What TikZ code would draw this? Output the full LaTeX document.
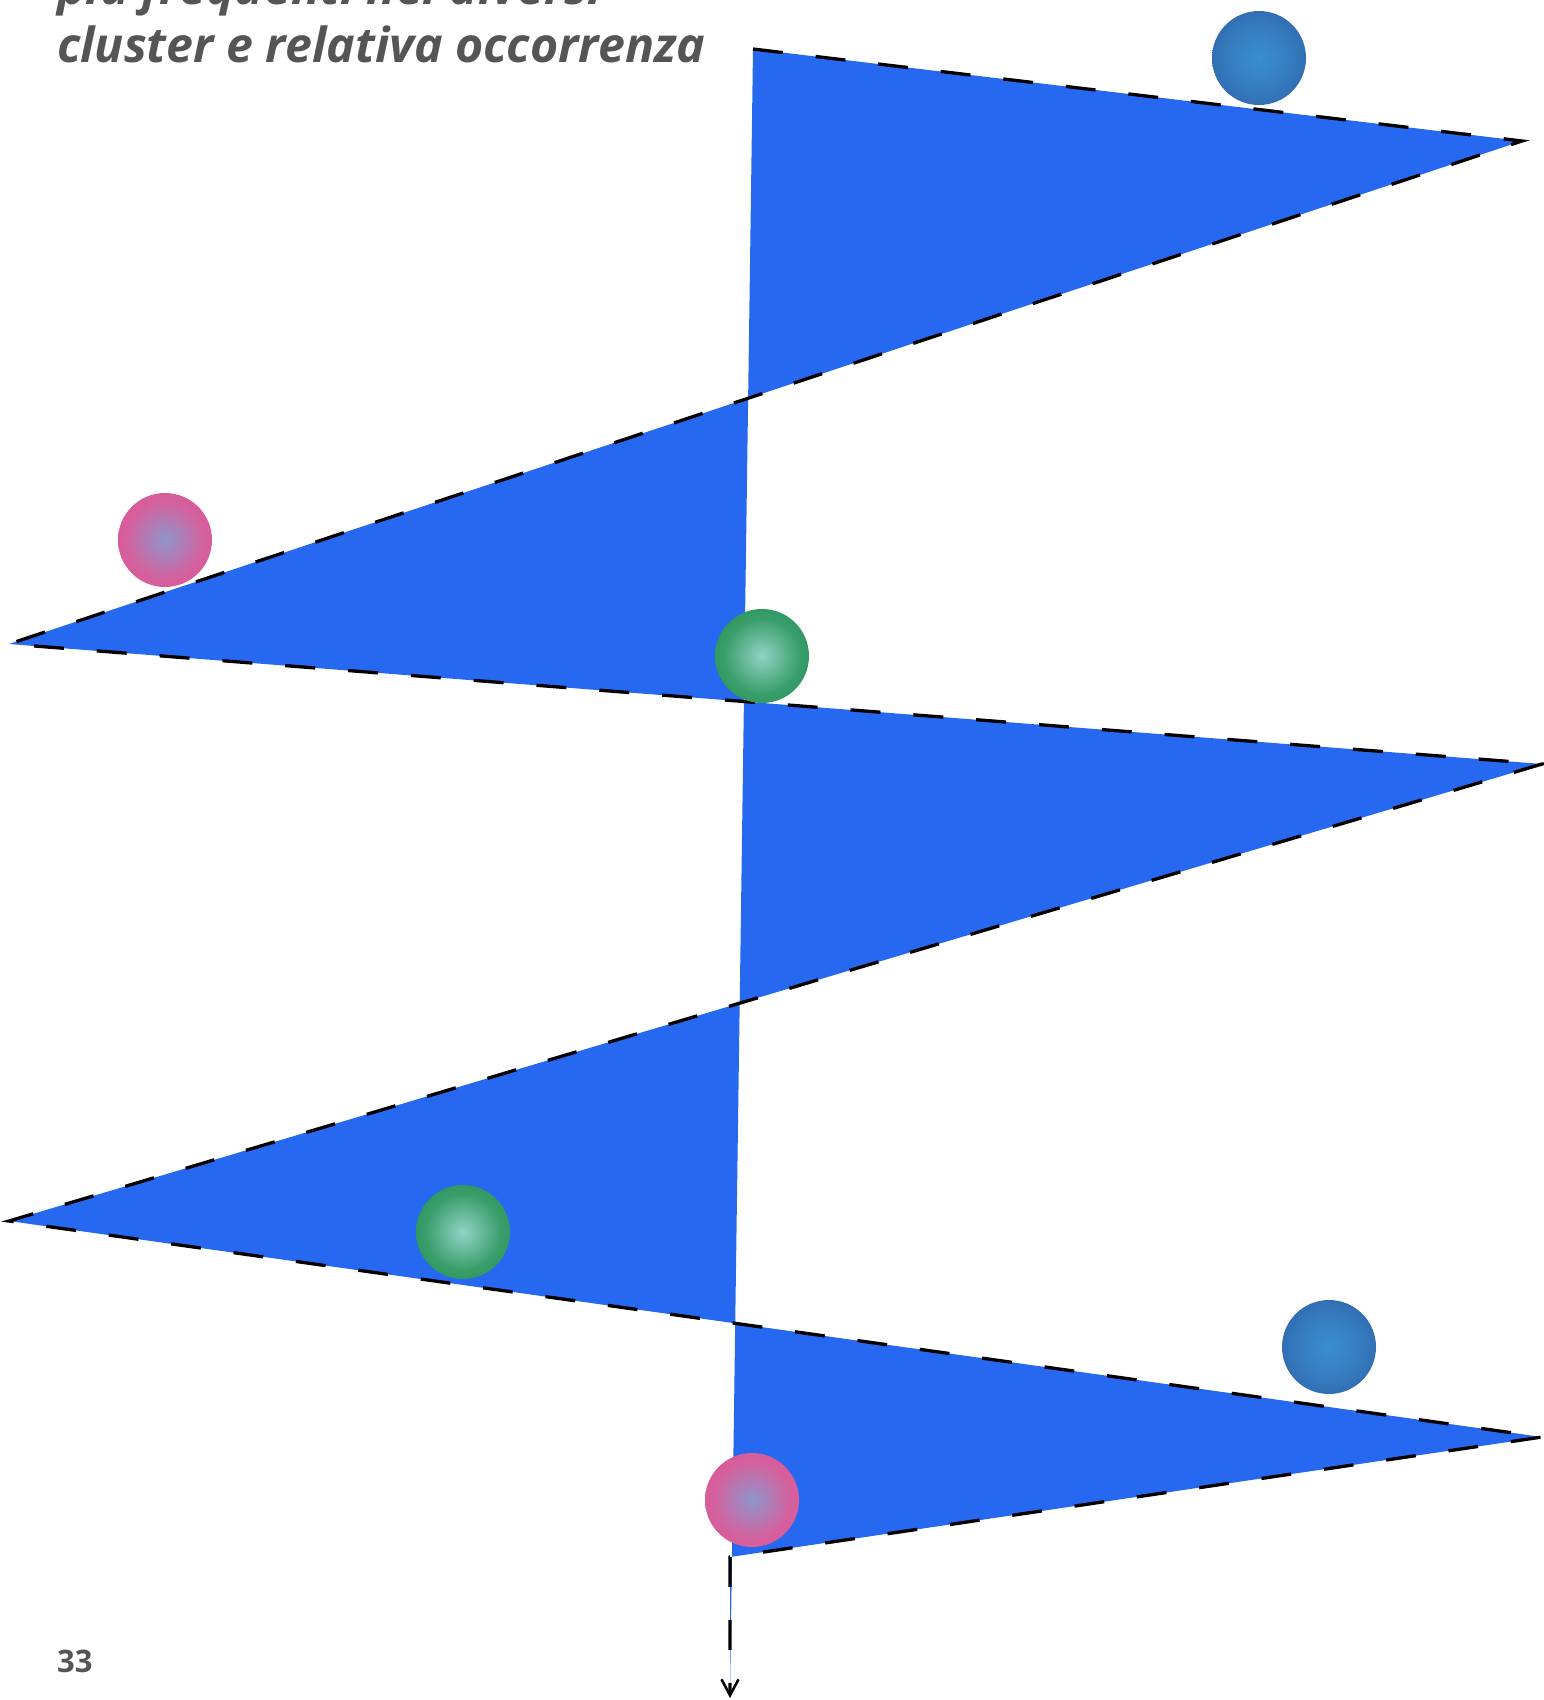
\documentclass[tikz,border=0pt]{standalone}
\usepackage{fontspec}
\setmainfont{Open Sans}
\usetikzlibrary{arrows.meta}

\definecolor{zigBlue}{HTML}{2669F0}
\definecolor{titleGray}{HTML}{555555}
\definecolor{blueIn}{HTML}{3A8FCE}
\definecolor{blueMid}{HTML}{3478BC}
\definecolor{blueOut}{HTML}{2C4592}
\definecolor{pinkIn}{HTML}{8E95CB}
\definecolor{pinkMid}{HTML}{D3629F}
\definecolor{pinkOut}{HTML}{EC4487}
\definecolor{greenIn}{HTML}{92D2C6}
\definecolor{greenMid}{HTML}{3A9E6C}
\definecolor{greenOut}{HTML}{0B873B}

\pgfdeclareradialshading{blueBallShade}{\pgfpoint{0bp}{0bp}}{%
  color(0bp)=(blueIn); color(20bp)=(blueMid); color(44bp)=(blueOut); color(72bp)=(blueOut)}
\pgfdeclareradialshading{pinkBallShade}{\pgfpoint{0bp}{0bp}}{%
  color(0bp)=(pinkIn); color(20bp)=(pinkMid); color(44bp)=(pinkOut); color(72bp)=(pinkOut)}
\pgfdeclareradialshading{greenBallShade}{\pgfpoint{0bp}{0bp}}{%
  color(0bp)=(greenIn); color(20bp)=(greenMid); color(44bp)=(greenOut); color(72bp)=(greenOut)}

\begin{document}
\begin{tikzpicture}[
  x=1pt, y=-1pt,
  title/.style={font=\fontsize{48.3}{58}\selectfont\bfseries\itshape, text=titleGray, anchor=base west, inner sep=0pt},
  page number/.style={font=\fontsize{31}{36}\selectfont\bfseries, text=titleGray, anchor=base west, inner sep=0pt},
  zig fill/.style={fill=zigBlue},
  zig line/.style={draw=black, line width=3.3pt, dash pattern=on 30pt off 33pt},
  zig arrow/.style={-{Straight Barb[length=16pt,width=17pt,line width=2.5pt]}},
  ball/.style={circle, minimum size=94pt, inner sep=0pt},
  blue ball/.style={ball, shading=blueBallShade},
  pink ball/.style={ball, shading=pinkBallShade},
  green ball/.style={ball, shading=greenBallShade}
]

% page frame, same proportions as the page
\useasboundingbox (0,0) rectangle (1543,1700);

% -----------------------------------------------------------------------------
% Heading (cut by the page top) and page number.
% -----------------------------------------------------------------------------
\node[title] (titleTop) at (57,4) {più frequenti nei diversi};
\node[title] (titleBottom) at (57,62) {cluster e relativa occorrenza};
\node[page number] (pageNo) at (57,1672) {33};

% -----------------------------------------------------------------------------
% Zigzag corners.
% -----------------------------------------------------------------------------
\coordinate (zigStart) at (753,49);
\coordinate (zigRightA) at (1522,141);
\coordinate (zigLeftA) at (9,644);
\coordinate (zigRightB) at (1542,764);
\coordinate (zigLeftB) at (9,1221);
\coordinate (zigRightC) at (1542,1437);
\coordinate (zigBottom) at (730,1557);
\coordinate (zigEnd) at (730,1698);

\fill[zig fill] (zigStart) -- (zigRightA) -- (zigLeftA) -- (zigRightB)
  -- (zigLeftB) -- (zigRightC) -- (zigBottom) -- (zigEnd) -- cycle;
\draw[zig line, zig arrow] (zigStart) -- (zigRightA) -- (zigLeftA) -- (zigRightB)
  -- (zigLeftB) -- (zigRightC) -- (zigBottom) -- (zigEnd);

% -----------------------------------------------------------------------------
% Cluster balls.
% -----------------------------------------------------------------------------
\node[blue ball] (blueTop) at (1259,58) {};
\node[pink ball] (pinkTop) at (165,540) {};
\node[green ball] (greenTop) at (762,656) {};
\node[green ball] (greenBottom) at (463,1232) {};
\node[blue ball] (blueBottom) at (1329,1347) {};
\node[pink ball] (pinkBottom) at (752,1500) {};

\end{tikzpicture}
\end{document}
